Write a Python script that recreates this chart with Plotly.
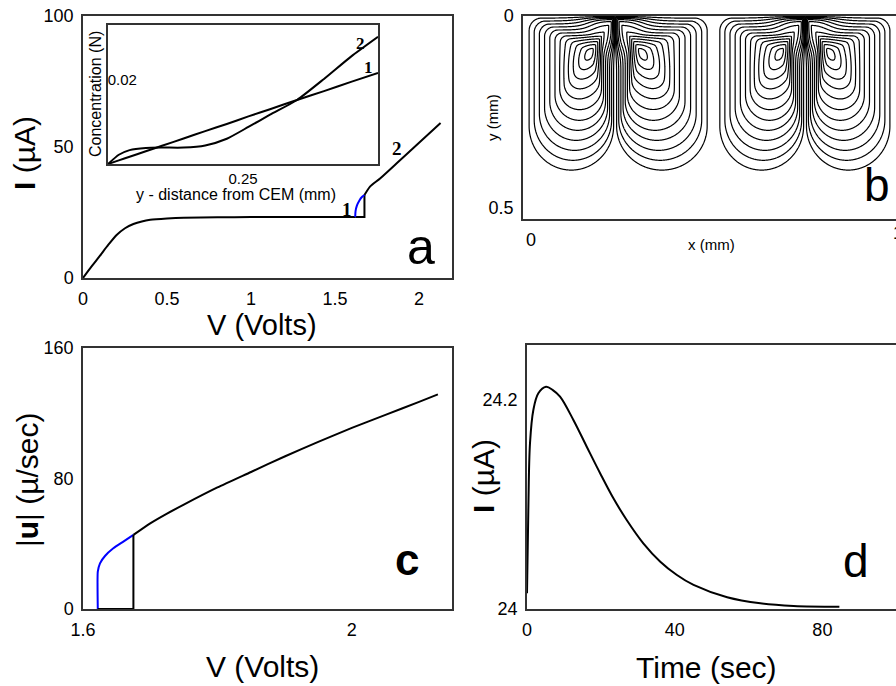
import numpy as np
import plotly.graph_objects as go

W_PX, H_PX = 896, 686
def px(x): return x / W_PX
def py(y): return 1 - y / H_PX

# ---------------- Panel a : I-V curve ----------------
a_branch1_V = [0, 0.05, 0.1, 0.15, 0.2, 0.25, 0.3, 0.35, 0.4, 0.5, 0.6, 0.8, 1.0, 1.2, 1.4, 1.62]
a_branch1_I = [0, 4.3, 8.4, 12.6, 16.4, 19.0, 20.6, 21.6, 22.2, 22.7, 23.0, 23.2, 23.25, 23.3, 23.3, 23.3]
a_jump_V = [1.62, 1.675, 1.675]
a_jump_I = [23.3, 23.3, 31.7]
a_blue_V = [1.620, 1.622, 1.630, 1.645, 1.660, 1.675]
a_blue_I = [23.3, 25.5, 27.6, 29.6, 30.9, 31.7]
a_branch2_V = [1.675, 1.708, 1.768, 1.867, 1.966, 2.128]
a_branch2_I = [31.7, 34.9, 38.0, 43.8, 49.6, 59.2]

# inset: concentration profiles
ins_y = [0, 0.02, 0.04, 0.07, 0.1, 0.14, 0.18, 0.22, 0.26, 0.30, 0.35, 0.40, 0.45, 0.5]
ins_c1 = [0, 0.00087, 0.00173, 0.00303, 0.00433, 0.00606, 0.0078, 0.0095, 0.0113, 0.013, 0.0152, 0.0173, 0.0195, 0.0216]
ins_c2 = [0, 0.0022, 0.0033, 0.0038, 0.0039, 0.0039, 0.0044, 0.0060, 0.0088, 0.0117, 0.0152, 0.0202, 0.0255, 0.0302]

# ---------------- Panel b : stream lines of 4 vortices ----------------
cell_corner_x = [0.229, 0.229, 0.747, 0.747]   # converging boundary (top corner)
cell_dir = [-1, 1, -1, 1]                      # direction from corner to outer wall
cell_width = [0.2445, 0.262, 0.2424, 0.2414]
cell_depth = 0.421
cell_round_start = 0.71          # where the U-shaped bottom starts (fraction of depth)
corner_radius = 0.035            # rounding of the outer top corner (data units)
vortex_center = (0.28, 0.23)     # (fraction of width from corner, fraction of depth)
core_axes = (0.36, 0.18)         # core ellipse half-axes (data units, along / across corner direction)
pinch_drop, pinch_pow, pinch_exp = 0.6, 3, 7
contour_levels = dict(start=0.06, end=0.94, size=0.08)

# ---------------- Panel c : |u| vs V ----------------
c_blue_V = [1.622, 1.622, 1.6253, 1.6327, 1.6451, 1.660, 1.675]
c_blue_u = [0, 22.9, 28.0, 32.5, 37.2, 41.3, 45.4]
c_box_V = [1.622, 1.675, 1.675]
c_box_u = [0, 0, 45.4]
c_black_V = [1.675, 1.70, 1.725, 1.75, 1.80, 1.85, 1.90, 1.95, 2.00, 2.05, 2.10, 2.128]
c_black_u = [45.4, 52.5, 58.5, 64.0, 74.5, 84.0, 93.5, 102.5, 111.0, 119.0, 127.0, 131.6]

# ---------------- Panel d : I vs time ----------------
d_t = [0, 0.36, 0.81, 1.72, 3.07, 5.15, 7.0, 8.95, 12.56, 16.18, 19.8, 23.4, 27.0, 31.5, 36.1, 40.6, 45.1, 54.2, 63.2, 72.2, 84.6]
d_I = [24.015, 24.0947, 24.1585, 24.1904, 24.2064, 24.2127, 24.2095, 24.2032, 24.1809, 24.1553, 24.1299, 24.1059, 24.0852,
       24.0629, 24.0453, 24.0325, 24.023, 24.0112, 24.0054, 24.0029, 24.0022]

FONT = "Liberation Sans, Arial, sans-serif"
SERIF = "Liberation Serif, Times New Roman, serif"
BLUE = "#0000ff"

fig = go.Figure()

def line(x, y, xa, ya, color="black", width=2, shape="linear", smoothing=1.0):
    fig.add_trace(go.Scatter(x=x, y=y, xaxis=xa, yaxis=ya, mode="lines",
                             line=dict(color=color, width=width, shape=shape, smoothing=smoothing),
                             hoverinfo="skip", showlegend=False))

# panel a
line(a_branch1_V, a_branch1_I, "x", "y", shape="spline", smoothing=0.6)
line(a_jump_V, a_jump_I, "x", "y")
line(a_blue_V, a_blue_I, "x", "y", color=BLUE, shape="spline", smoothing=0.6)
line(a_branch2_V, a_branch2_I, "x", "y", shape="spline", smoothing=0.6)
# inset
line(ins_y, ins_c1, "x2", "y2", shape="spline", smoothing=0.6)
line(ins_y, ins_c2, "x2", "y2", shape="spline", smoothing=0.6)

# panel b stream function field
xs = np.linspace(-0.022, 0.995, 720)
ys = np.linspace(0.0, 0.53, 380)
XX, YY = np.meshgrid(xs, ys)
psi = np.zeros_like(XX)
Yc = cell_round_start
hh = 1 - Yc
CX, CY = vortex_center

for xc, dr, wd in zip(cell_corner_x, cell_dir, cell_width):
    rx, ry = corner_radius / wd, corner_radius / cell_depth

    def inside_U(X, Y):
        ok = (X >= 0) & (X <= 1) & (Y >= 0)
        upper = Y <= Yc
        ell = ((X - 0.5) / 0.5) ** 2 + ((Y - Yc) / hh) ** 2 <= 1
        cut = (X > 1 - rx) & (Y < ry) & (((X - (1 - rx)) / rx) ** 2 + ((ry - Y) / ry) ** 2 > 1)
        return ok & (upper | ell) & ~cut

    X = (XX - xc) * dr / wd
    Y = YY / cell_depth
    dX, dY = X - CX, Y - CY
    dn = np.hypot(dX, dY)
    safe = np.where(dn > 0, dn, 1.0)
    eX, eY = np.where(dn > 0, dX / safe, 1.0), np.where(dn > 0, dY / safe, 0.0)
    lo = np.zeros_like(dn); hi = np.full_like(dn, 1.6)
    for _ in range(24):
        mid = 0.5 * (lo + hi)
        ins = inside_U(CX + mid * eX, CY + mid * eY)
        lo = np.where(ins, mid, lo)
        hi = np.where(ins, hi, mid)
    rho_u = dn / np.maximum(lo, 1e-9)
    # tilted core ellipse, long axis pointing at the converging corner
    kx, ky = -CX * wd, -CY * cell_depth
    kn = np.hypot(kx, ky)
    kx, ky = kx / kn, ky / kn
    dxd, dyd = dX * wd, dY * cell_depth
    p_major = dxd * kx + dyd * ky
    p_minor = -dxd * ky + dyd * kx
    rho_e = np.hypot(p_major / core_axes[0], p_minor / core_axes[1])
    beta = np.clip(rho_u / 0.5, 0, 1)
    rho = beta * rho_u + (1 - beta) * np.minimum(rho_e, rho_u * 3)
    # pinch towards the converging corner
    cd = p_major / np.maximum(np.hypot(dxd, dyd), 1e-12)
    wgt = ((np.clip(cd, 0, 1) + 1) / 2) ** (2 * pinch_pow)
    lam = 1 - pinch_drop * wgt * np.clip(rho, 0, 1) ** 2
    F = 1 - (lam * rho + (1 - lam) * rho ** pinch_exp)
    field = np.where(inside_U(X, Y) & (rho_u < 1), F, 0.0)
    psi = np.maximum(psi, field)
psi = np.round(np.clip(psi, 0, 1), 4)

fig.add_trace(go.Contour(x=xs, y=ys, z=psi, xaxis="x3", yaxis="y3", showscale=False,
                         colorscale=[[0, "black"], [1, "black"]], autocontour=False, ncontours=12,
                         contours=dict(coloring="lines", **contour_levels),
                         line=dict(width=1.2, smoothing=1), hoverinfo="skip"))

# panel c
line(c_blue_V, c_blue_u, "x4", "y4", color=BLUE, shape="spline", smoothing=0.5)
line(c_box_V, c_box_u, "x4", "y4")
line(c_black_V, c_black_u, "x4", "y4", shape="spline", smoothing=0.6)

# panel d
line(d_t, d_I, "x5", "y5", shape="spline", smoothing=1.0)

frame = dict(showline=True, mirror=True, linecolor="#333", linewidth=1.5, showgrid=False, zeroline=False,
             automargin=False, ticks="outside", ticklen=4, tickcolor="rgba(0,0,0,0)",
             tickfont=dict(family=FONT, size=18, color="black"))

def dom_x(l, r): return [px(l), min(px(r), 1.0)]
def dom_y(t, b): return [py(b), py(t)]

fig.update_layout(
    template="none",
    width=W_PX, height=H_PX, margin=dict(l=0, r=0, t=0, b=0, autoexpand=False),
    paper_bgcolor="white", plot_bgcolor="white", showlegend=False,
    xaxis=dict(frame, domain=dom_x(83, 452), range=[0, 2.196], anchor="y",
               tickvals=[0, 0.5, 1, 1.5, 2], ticktext=["0", "0.5", "1", "1.5", "2"]),
    yaxis=dict(frame, domain=dom_y(16, 278), range=[0, 100], anchor="x", tickvals=[0, 50, 100]),
    xaxis2=dict(frame, domain=dom_x(108, 378), range=[0, 0.5], anchor="y2", ticks="", ticklen=0,
                tickvals=[0, 0.25], ticktext=["0", "0.25"], tickfont=dict(family=FONT, size=15, color="black")),
    yaxis2=dict(frame, domain=dom_y(25, 164), range=[0, 0.033], anchor="x2",
                tickvals=[0.02], ticktext=["0.02"], ticklabelposition="inside",
                tickfont=dict(family=FONT, size=15, color="black")),
    xaxis3=dict(frame, domain=dom_x(523, 897), range=[-0.022, 0.995], anchor="y3", tickvals=[0], ticktext=["0"]),
    yaxis3=dict(frame, domain=dom_y(16, 219), range=[0.53, 0], anchor="x3", tickvals=[0, 0.5], ticktext=["0", "0.5"]),
    xaxis4=dict(frame, domain=dom_x(83, 452), range=[1.6, 2.149], anchor="y4",
                tickvals=[1.6, 2], ticktext=["1.6", "2"]),
    yaxis4=dict(frame, domain=dom_y(348, 609), range=[0, 160], anchor="x4", tickvals=[0, 80, 160]),
    xaxis5=dict(frame, domain=dom_x(527, 895.5), range=[0, 99.8], anchor="y5", tickvals=[0, 40, 80]),
    yaxis5=dict(frame, domain=dom_y(345, 609), range=[24, 24.2526], anchor="x5",
                tickvals=[24, 24.2], ticktext=["24", "24.2"]),
)

ann = []
def text(x, y, t, size, angle=0, family=FONT, xanchor="center", ref=None):
    d = dict(text=t, showarrow=False, textangle=angle, xanchor=xanchor, yanchor="middle",
             font=dict(family=family, size=size, color="black"))
    if ref is None:
        d.update(x=px(x), y=py(y), xref="paper", yref="paper")
    else:
        d.update(x=x, y=y, xref=ref[0], yref=ref[1])
    ann.append(d)

# axis titles
text(262, 325, "V (Volts)", 29)
text(25, 153, "<b>I</b> (µA)", 30, angle=-90)
text(96, 94, "Concentration (N)", 16, angle=-90)
text(236, 194, "y - distance from CEM (mm)", 16)
text(492, 118, "y (mm)", 15, angle=-90)
text(711, 244, "x (mm)", 15)
text(898, 233, "1", 18)
text(262, 666, "V (Volts)", 30)
text(27, 480, "|<b>u</b>| (µ/sec)", 30, angle=-90)
text(706, 667, "Time (sec)", 30)
text(483, 476, "<b>I</b> (µA)", 30, angle=-90)
# panel letters
text(421, 247, "a", 50)
text(877, 185, "b", 46)
text(407, 559, "<b>c</b>", 44)
text(856, 561, "d", 46)
# curve numbers
text(1.867, 49.5, "<b>2</b>", 19, family=SERIF, ref=("x", "y"))
text(1.570, 26.2, "<b>1</b>", 19, family=SERIF, ref=("x", "y"))
text(0.467, 0.0287, "<b>2</b>", 17, family=SERIF, ref=("x2", "y2"))
text(0.483, 0.0228, "<b>1</b>", 17, family=SERIF, ref=("x2", "y2"))

fig.update_layout(annotations=ann)
fig.write_html("out.html")
